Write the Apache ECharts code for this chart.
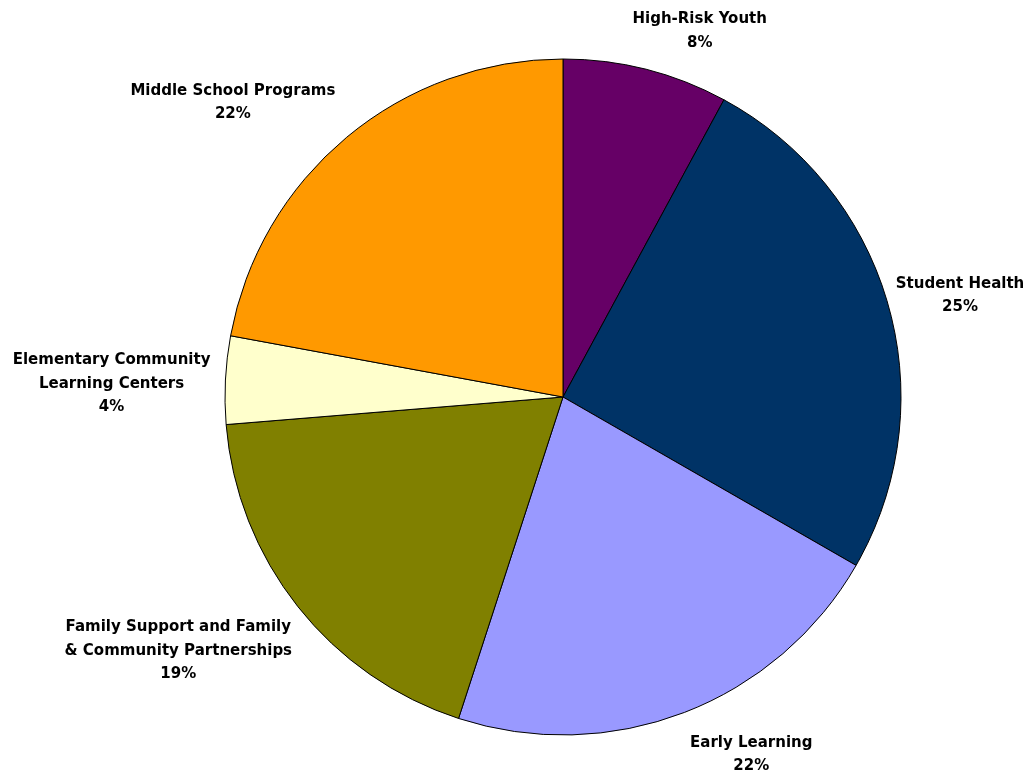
<!DOCTYPE html>
<html>
<head>
<meta charset="utf-8">
<script src="https://cdn.jsdelivr.net/npm/echarts@6/dist/echarts.min.js"></script>
<style>html,body{margin:0;padding:0;background:#fff;}#c{width:1029px;height:774px;}</style>
</head>
<body>
<div id="c"></div>
<script>
const categories = ['High-Risk Youth', 'Student Health', 'Early Learning', 'Family Support and Family\n& Community Partnerships', 'Elementary Community\nLearning Centers', 'Middle School Programs'];
const values = [7.9, 25.4, 21.7, 18.7, 4.2, 22.1];
const colors = ['#660066', '#003366', '#9999FF', '#808000', '#FFFFCC', '#FF9900'];
// small label nudges (px) relative to the geometric outside-end placement
const labelNudge = [[-16, -6], [-2, 0], [2, 11], [2, 16], [-5, 6], [-5, -9]];

const CX = 563, CY = 397, R = 338, GAP = 10;
const total = values.reduce((a, b) => a + b, 0);
const midAngles = [];
let acc = 0;
values.forEach(v => { midAngles.push((acc + v / 2) / total * 2 * Math.PI); acc += v; });

const chart = echarts.init(document.getElementById('c'), null, {renderer: 'canvas'});
chart.setOption({
  animation: false,
  backgroundColor: '#fff',
  series: [{
    type: 'pie',
    center: [CX, CY],
    radius: R,
    startAngle: 90,
    clockwise: true,
    avoidLabelOverlap: false,
    data: categories.map((n, i) => ({name: n, value: values[i], itemStyle: {color: colors[i]}})),
    itemStyle: {borderColor: '#000', borderWidth: 1},
    label: {
      show: true,
      position: 'outside',
      formatter: p => p.name + '\n' + Math.round(p.value) + '%',
      fontFamily: 'DejaVu Sans',
      fontWeight: 'bold',
      fontSize: 15,
      lineHeight: 23.5,
      color: '#000',
      align: 'center'
    },
    labelLine: {show: false},
    labelLayout: function (params) {
      const i = params.dataIndex;
      const a = midAngles[i];
      const ux = Math.sin(a), uy = -Math.cos(a);
      const w = params.labelRect.width, h = params.labelRect.height;
      const px = CX + (R + GAP) * ux, py = CY + (R + GAP) * uy;
      return {
        x: px + Math.sign(ux) * w / 2 + labelNudge[i][0],
        y: py + uy * h / 2 + labelNudge[i][1],
        align: 'center',
        verticalAlign: 'middle'
      };
    }
  }]
});
</script>
</body>
</html>
